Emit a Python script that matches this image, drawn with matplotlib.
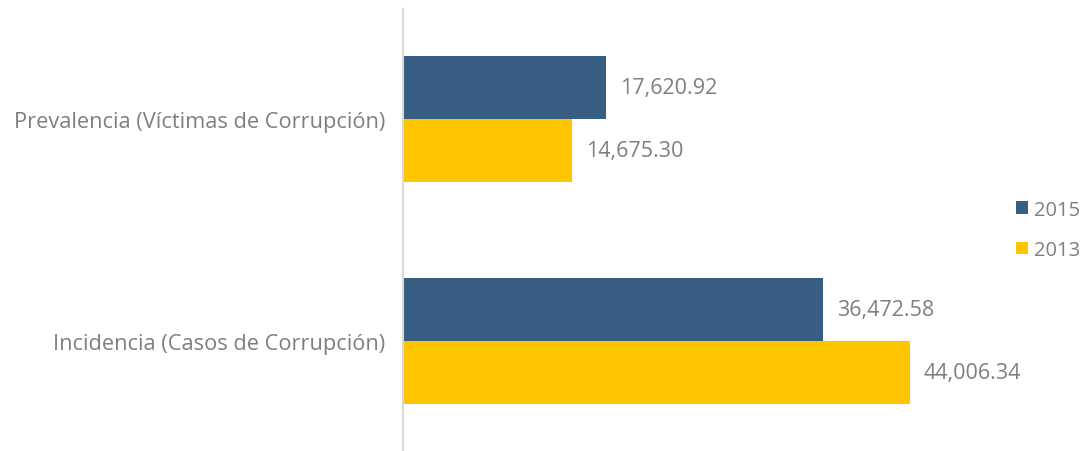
import matplotlib.pyplot as plt
import numpy as np

plt.rcParams['font.family'] = ['Open Sans', 'DejaVu Sans']

categories = ["Prevalencia (Víctimas de Corrupción)", "Incidencia (Casos de Corrupción)"]
years = ["2015", "2013"]
values_2015 = [17620.92, 36472.58]
values_2013 = [14675.30, 44006.34]

colors = {"2015": "#375e82", "2013": "#ffc400"}
text_gray = "#7f7f7f"

fig = plt.figure(figsize=(10.83, 4.52), dpi=100)
ax = fig.add_axes([0.3721, 0.0, 0.532, 0.978])

y = np.arange(len(categories))
h = 0.284
bars15 = ax.barh(y - h / 2, values_2015, height=h, color=colors["2015"], label="2015")
bars13 = ax.barh(y + h / 2, values_2013, height=h, color=colors["2013"], label="2013")

for bars, vals in [(bars15, values_2015), (bars13, values_2013)]:
    for b, v in zip(bars, vals):
        ax.annotate(f"{v:,.2f}", (v, b.get_y() + b.get_height() / 2),
                    xytext=(10, 0), textcoords="offset points",
                    va="center", ha="left", fontsize=15.5, color=text_gray)

ax.set_xlim(0, 50000)
ax.set_ylim(1.496, -0.495)
ax.set_yticks(y)
ax.set_yticklabels(categories, fontsize=15.7, color=text_gray)
ax.tick_params(axis="y", length=0, pad=13)
ax.set_xticks([])

for side in ["top", "right", "bottom"]:
    ax.spines[side].set_visible(False)
ax.spines["left"].set_color("#d9d9d9")
ax.spines["left"].set_linewidth(1.5)

leg = fig.legend(loc="center left", bbox_to_anchor=(0.938, 0.489), frameon=False,
                 fontsize=14.5, handlelength=0.6, handleheight=0.6, handletextpad=0.3,
                 labelspacing=1.0, labelcolor=text_gray, borderpad=0, borderaxespad=0)

fig.savefig("out.png", dpi=100)
